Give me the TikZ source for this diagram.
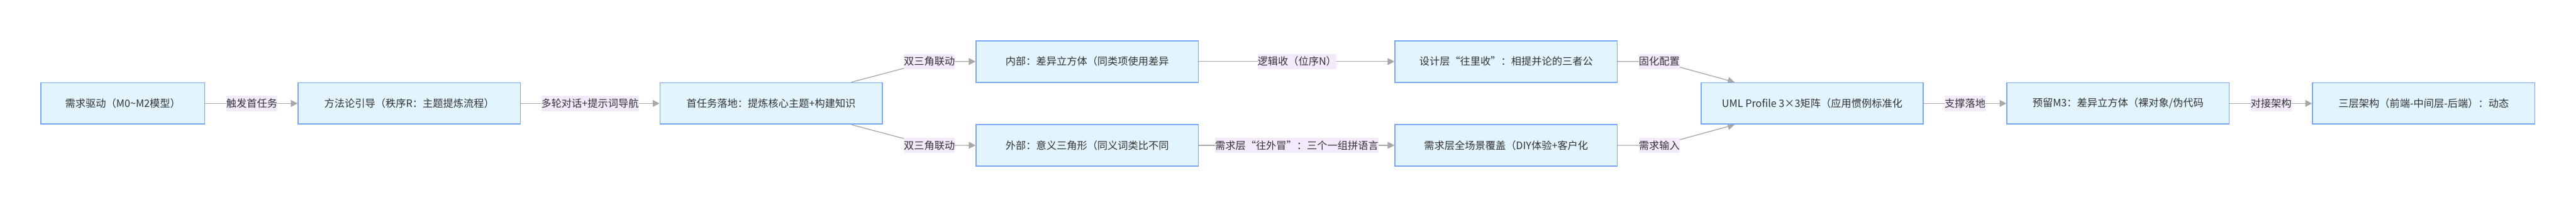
\documentclass[tikz,border=0pt]{standalone}
\usepackage{fontspec}
\setmainfont{Noto Sans CJK SC}
\definecolor{boxblue}{RGB}{120,167,250}
\definecolor{boxfill}{RGB}{226,244,253}
\definecolor{tagfill}{RGB}{243,235,252}
\definecolor{edgegray}{RGB}{168,168,168}
\definecolor{inkgray}{RGB}{51,51,51}
\usetikzlibrary{arrows.meta,positioning,backgrounds}

\begin{document}
\begin{tikzpicture}[
    stagebox/.style={rectangle, draw=boxblue, fill=boxfill, line width=0.7pt, minimum width=5.2cm, minimum height=0.97cm, font=\fontsize{6.8}{8}\selectfont, text=inkgray, align=center},
    tagbox/.style={rectangle, fill=tagfill, inner sep=0pt, minimum height=0.36cm, font=\fontsize{6.8}{8}\selectfont, text=inkgray},
    flow/.style={-{Triangle[length=1.6mm, width=1.6mm]}, line width=0.55pt, edgegray}
]
    \useasboundingbox (0,0) rectangle (60.3,4.84);

    % Main chain
    \node[stagebox, minimum width=3.83cm] (drive) at (2.875,2.42) {需求驱动（M0\textasciitilde M2模型）};
    \node[stagebox] (method) at (9.58,2.42) {方法论引导（秩序R：主题提炼流程）};
    \node[stagebox] (task) at (18.05,2.42) {首任务落地：提炼核心主题+构建知识};

    % Two triangles
    \node[stagebox] (inner) at (25.45,3.40) {内部：差异立方体（同类项使用差异};
    \node[stagebox] (outer) at (25.45,1.44) {外部：意义三角形（同义词类比不同};
    \node[stagebox] (design) at (35.255,3.40) {设计层“往里收”：相提并论的三者公};
    \node[stagebox] (demand) at (35.255,1.44) {需求层全场景覆盖（DIY体验+客户化};

    % Output chain
    \node[stagebox] (uml) at (42.42,2.42) {UML Profile 3×3矩阵（应用惯例标准化};
    \node[stagebox] (reserve) at (49.58,2.42) {预留M3：差异立方体（裸对象/伪代码};
    \node[stagebox] (arch) at (56.735,2.42) {三层架构（前端-中间层-后端）：动态};

    % Edge labels
    \node[tagbox] (t1) at (5.895,2.42) {触发首任务};
    \node[tagbox] (t2) at (13.81,2.42) {多轮对话+提示词导航};
    \node[tagbox] (t3) at (21.755,3.40) {双三角联动};
    \node[tagbox] (t4) at (21.755,1.44) {双三角联动};
    \node[tagbox] (t5) at (30.36,3.40) {逻辑收（位序N）};
    \node[tagbox] (t6) at (30.355,1.44) {需求层“往外冒”：三个一组拼语言};
    \node[tagbox] (t7) at (38.84,3.40) {固化配置};
    \node[tagbox] (t8) at (38.84,1.44) {需求输入};
    \node[tagbox] (t9) at (46.0,2.42) {支撑落地};
    \node[tagbox] (t10) at (53.16,2.42) {对接架构};

    % Arrows
    \begin{scope}[on background layer]
        \foreach \a/\t/\b in {drive/t1/method, method/t2/task, task/t3/inner, task/t4/outer, inner/t5/design, outer/t6/demand, design/t7/uml, demand/t8/uml, uml/t9/reserve, reserve/t10/arch}
            \draw[flow] (\a) -- (\t.center) -- (\b);
    \end{scope}
\end{tikzpicture}
\end{document}
